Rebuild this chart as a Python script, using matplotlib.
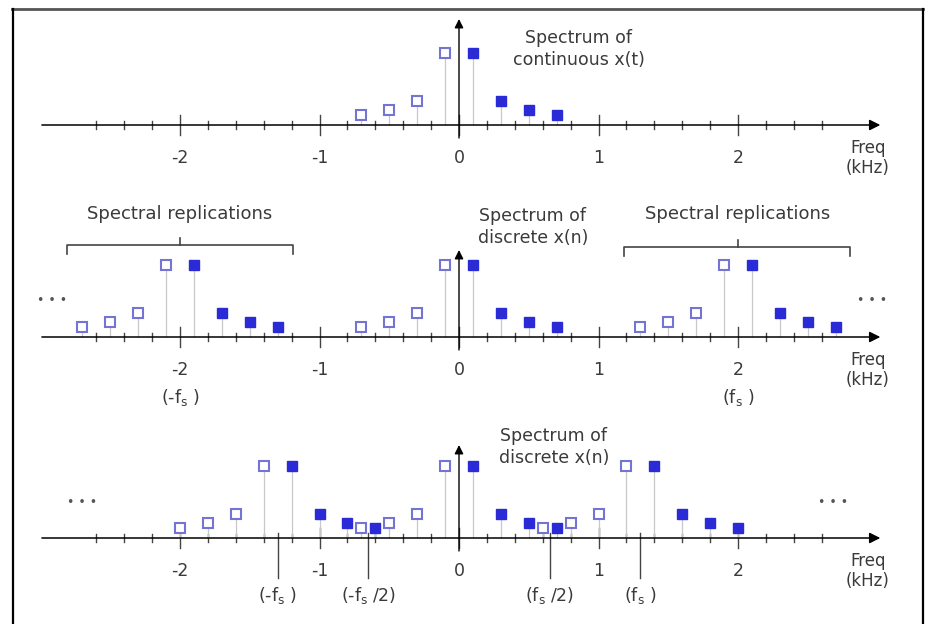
import numpy as np
import matplotlib.pyplot as plt
from matplotlib.lines import Line2D

plt.rcParams['font.family'] = ['DejaVu Sans']
plt.rcParams['mathtext.fontset'] = 'dejavusans'

# spectrum of the continuous signal (kHz, relative magnitude)
neg_freqs = [-0.7, -0.5, -0.3, -0.1]
neg_mags = [0.14, 0.21, 0.33, 1.0]
pos_freqs = [0.1, 0.3, 0.5, 0.7]
pos_mags = [1.0, 0.33, 0.21, 0.14]

fs_mid = 2.0   # sample rate, middle panel
fs_bot = 1.3   # sample rate, bottom panel
shifts_mid = [-fs_mid, 0.0, fs_mid]
shifts_bot = [-fs_bot, 0.0, fs_bot]

tick_pos = np.round(np.arange(-2.6, 2.61, 0.2), 1)
major_ticks = [-2, -1, 0, 1, 2]
bot_marks = [-fs_bot, -fs_bot / 2, fs_bot / 2, fs_bot]
bot_mark_labels = [r'(-f$_{\rm s}$ )', r'(-f$_{\rm s}$ /2)', r'(f$_{\rm s}$ /2)', r'(f$_{\rm s}$ )']

W, H = 925, 624
PX = 139.5     # pixels per kHz
X0 = 459       # pixel of 0 kHz
UNIT = 72      # pixels per magnitude unit

FILL = '#2a2ad6'
OPEN = '#7474d4'
TXT = '#3a3a3a'
FS = 12.5

fig = plt.figure(figsize=(W / 100, H / 100), dpi=100)


def panel(top_px, bot_px, axis_px):
    ax = fig.add_axes([0, 1 - bot_px / H, 1, (bot_px - top_px) / H])
    ax.set_xlim(-X0 / PX, (W - X0) / PX)
    ax.set_ylim(-(bot_px - axis_px) / UNIT, (axis_px - top_px) / UNIT)
    ax.axis('off')
    return ax


def py(n):
    return n / UNIT


def draw_axis(ax, arrow_top):
    ax.annotate('', xy=(3.02, 0), xytext=(-2.99, 0),
                arrowprops=dict(arrowstyle='-|>', color='black', lw=1.1,
                                mutation_scale=16, shrinkA=0, shrinkB=0))
    ax.annotate('', xy=(0, py(arrow_top)), xytext=(0, -py(13)),
                arrowprops=dict(arrowstyle='-|>', color='black', lw=1.0,
                                mutation_scale=13, shrinkA=0, shrinkB=0))
    for t in tick_pos:
        if t in major_ticks:
            ax.plot([t, t], [-py(10), py(10)], color='#444', lw=1)
        else:
            ax.plot([t, t], [-py(4), py(4)], color='#444', lw=1)
    for t in major_ticks:
        ax.text(t, -py(33), str(t), ha='center', va='center', fontsize=FS, color=TXT)
    ax.text(2.93, -py(33), 'Freq\n(kHz)', ha='center', va='center', fontsize=FS - 0.5,
            color=TXT, linespacing=1.2)


def draw_spectrum(ax, shifts):
    for s in shifts:
        nf = np.array(neg_freqs) + s
        pf = np.array(pos_freqs) + s
        ax.vlines(nf, 0, neg_mags, color='#c8c8c8', lw=0.9)
        ax.vlines(pf, 0, pos_mags, color='#c8c8c8', lw=0.9)
        ax.plot(nf, neg_mags, 's', ms=7.5, mfc='white', mec=OPEN, mew=1.5, ls='none', zorder=3)
        ax.plot(pf, pos_mags, 's', ms=7.5, mfc=FILL, mec=FILL, ls='none', zorder=3)


def bracket(ax, x0, x1, xc, y_px):
    y = py(y_px)
    ax.plot([x0, x0, x1, x1], [y - py(9), y, y, y - py(9)], color='#444', lw=1.2)
    ax.plot([xc, xc], [y, y + py(7)], color='#444', lw=1.2)


def dots(ax, x, y_px):
    ax.text(x, py(y_px), '• • •', ha='center', va='center', fontsize=9, color='#555')


# top panel
ax1 = panel(0, 190, 125)
draw_axis(ax1, 106)
draw_spectrum(ax1, [0.0])
ax1.text(0.86, py(76), 'Spectrum of\ncontinuous x(t)', ha='center', va='center',
         fontsize=FS, color=TXT, linespacing=1.25)

# middle panel
ax2 = panel(190, 420, 337)
draw_axis(ax2, 87)
draw_spectrum(ax2, shifts_mid)
ax2.text(0.53, py(110), 'Spectrum of\ndiscrete x(n)', ha='center', va='center',
         fontsize=FS, color=TXT, linespacing=1.25)
bracket(ax2, -2.81, -1.19, -2.0, 92)
bracket(ax2, 1.18, 2.80, 2.0, 90)
ax2.text(-2.0, py(123), 'Spectral replications', ha='center', va='center',
         fontsize=FS + 0.5, color=TXT)
ax2.text(2.0, py(123), 'Spectral replications', ha='center', va='center',
         fontsize=FS + 0.5, color=TXT)
dots(ax2, -2.92, 37)
dots(ax2, 2.96, 37)
ax2.text(-2.0, -py(61), r'(-f$_{\rm s}$ )', ha='center', va='center', fontsize=FS, color=TXT)
ax2.text(2.0, -py(61), r'(f$_{\rm s}$ )', ha='center', va='center', fontsize=FS, color=TXT)

# bottom panel
ax3 = panel(420, 624, 538)
draw_axis(ax3, 93)
draw_spectrum(ax3, shifts_bot)
ax3.text(0.68, py(91), 'Spectrum of\ndiscrete x(n)', ha='center', va='center',
         fontsize=FS, color=TXT, linespacing=1.25)
for xm, lab in zip(bot_marks, bot_mark_labels):
    ax3.plot([xm, xm], [py(5), -py(40)], color='#444', lw=1)
    ax3.text(xm, -py(57), lab, ha='center', va='center', fontsize=FS, color=TXT)
dots(ax3, -2.70, 36)
dots(ax3, 2.68, 36)

# frame around the figure
fig.add_artist(Line2D([12 / W, 923 / W], [1 - 9 / H, 1 - 9 / H], color='#555', lw=2,
                      transform=fig.transFigure))
fig.add_artist(Line2D([12.5 / W, 12.5 / W], [0, 1 - 9 / H], color='black', lw=1.6,
                      transform=fig.transFigure))
fig.add_artist(Line2D([922.5 / W, 922.5 / W], [0, 1 - 9 / H], color='black', lw=1.6,
                      transform=fig.transFigure))

fig.savefig('out.png', dpi=100)
